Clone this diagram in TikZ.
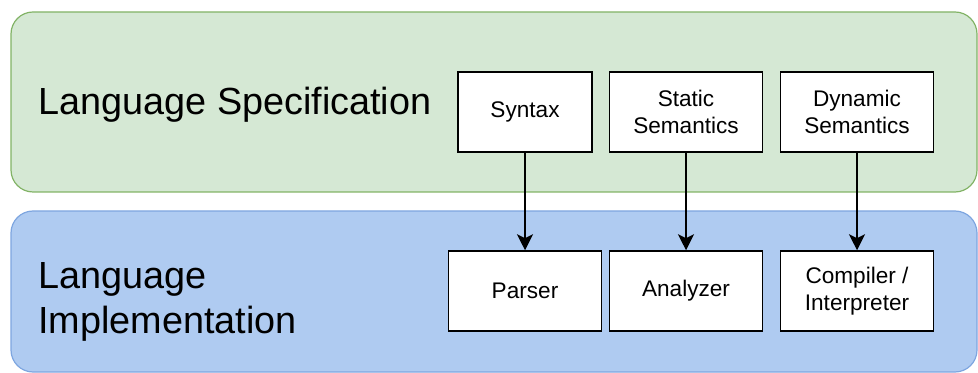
\documentclass[tikz,border=0pt]{standalone}
\usepackage{fontspec}
\setmainfont{Liberation Sans}
\usetikzlibrary{shapes,arrows.meta}
\definecolor{specfill}{HTML}{D5E8D4}
\definecolor{specline}{HTML}{82B366}
\definecolor{implfill}{HTML}{AFCBF1}
\definecolor{implline}{HTML}{7EA6E0}
\tikzstyle{arrow} = [-{Stealth[length=8pt,width=8pt,inset=2pt]}, line width=0.75pt]
\tikzstyle{layer} = [rounded corners=11pt, line width=0.6pt]
\tikzstyle{block} = [rectangle, draw, fill=white, line width=0.75pt,
align=center, inner sep=0pt, minimum width=76.5pt, minimum height=40pt,
font=\fontsize{11.3}{13.5}\selectfont]
\tikzstyle{title} = [align=left, anchor=base west, inner sep=0pt,
font=\fontsize{18.9}{22}\selectfont]

\begin{document}
\begin{tikzpicture}[x=0.5pt, y=-0.5pt, node distance=89.5pt]
	\useasboundingbox (0,0) rectangle (978,373);
	% Layers
	\draw[layer, draw=specline, fill=specfill] (11,12) rectangle (977,192);
	\draw[layer, draw=implline, fill=implfill] (11,211) rectangle (977,372);
	
	% Place nodes
	\node (spec) [title] at (38,115) {Language Specification};
	\node (impl) [title] at (38,333) {Language\\Implementation};
	
	\node (syntax) [block, minimum width=67pt] at (525,112) {Syntax};
	\node (static) [block] at (686,112) {Static\\Semantics};
	\node (dynamic) [block] at (857,112) {Dynamic\\Semantics};
	\node (parser) [block, below of=syntax] {Parser};
	\node (analyzer) [block, below of=static] {Analyzer};
	\node (compiler) [block, below of=dynamic] {Compiler /\\Interpreter};
	
	% Arrows
	\draw [arrow] (syntax) -- (parser);
	\draw [arrow] (static) -- (analyzer);
	\draw [arrow] (dynamic) -- (compiler);
\end{tikzpicture}
\end{document}
